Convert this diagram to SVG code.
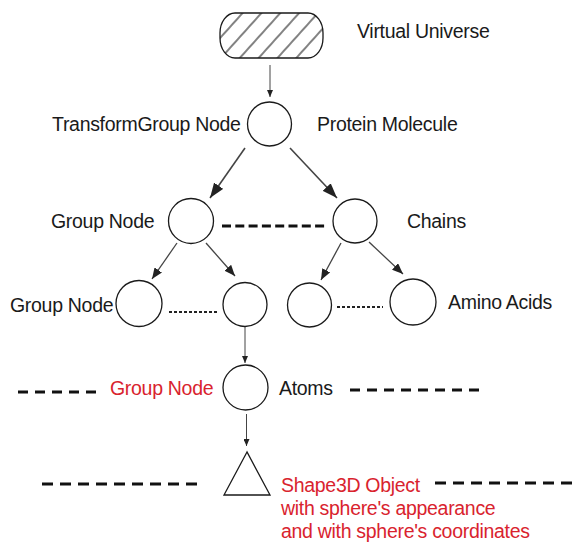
<svg xmlns="http://www.w3.org/2000/svg" width="573" height="542" viewBox="0 0 573 542">
<style>
  text { font-family: "Liberation Sans", Arial, sans-serif; font-size: 19.5px; fill: #1a1a1a; letter-spacing: -0.3px; }
  .red { fill: #d9232e; }
  .node { fill: #ffffff; stroke: #1a1a1a; stroke-width: 1.3; }
  .arrow { stroke: #444444; fill: none; }
  .dash { stroke: #111111; stroke-width: 3.2; fill: none; }
  .dot { stroke: #222222; stroke-width: 2; stroke-dasharray: 3 2; fill: none; }
</style>
<defs>
  <pattern id="hatch" patternUnits="userSpaceOnUse" width="14" height="14" patternTransform="rotate(42)">
    <line x1="7" y1="0" x2="7" y2="14" stroke="#1a1a1a" stroke-width="1.1"/>
  </pattern>
  <marker id="big" markerUnits="userSpaceOnUse" markerWidth="15" markerHeight="11" refX="15" refY="5.5" orient="auto">
    <path d="M0,0 L15,5.5 L0,11 z" fill="#222222"/>
  </marker>
  <marker id="mid" markerUnits="userSpaceOnUse" markerWidth="11" markerHeight="9" refX="11" refY="4.5" orient="auto">
    <path d="M0,0 L11,4.5 L0,9 z" fill="#222222"/>
  </marker>
  <marker id="small" markerUnits="userSpaceOnUse" markerWidth="7" markerHeight="6" refX="7" refY="3" orient="auto">
    <path d="M0,0 L7,3 L0,6 z" fill="#222222"/>
  </marker>
</defs>

<g id="connectors">
  <line class="arrow" stroke-width="1" x1="270" y1="65" x2="270" y2="97" marker-end="url(#small)"/>
  <line class="arrow" stroke-width="1.6" x1="245" y1="148" x2="210" y2="198" marker-end="url(#big)"/>
  <line class="arrow" stroke-width="1.6" x1="290" y1="148" x2="337" y2="198" marker-end="url(#big)"/>
  <line class="arrow" stroke-width="1.3" x1="177" y1="243" x2="152" y2="279" marker-end="url(#mid)"/>
  <line class="arrow" stroke-width="1.3" x1="206" y1="243" x2="235" y2="276" marker-end="url(#mid)"/>
  <line class="arrow" stroke-width="1.3" x1="341" y1="243" x2="321" y2="280" marker-end="url(#mid)"/>
  <line class="arrow" stroke-width="1.3" x1="369" y1="242" x2="403" y2="274" marker-end="url(#mid)"/>
  <line class="arrow" stroke-width="1" x1="245" y1="327" x2="245" y2="363" marker-end="url(#small)"/>
  <line class="arrow" stroke-width="1" x1="246.5" y1="414" x2="246.5" y2="446" marker-end="url(#small)"/>
  <line class="dash" stroke-dasharray="9 4.3" x1="222" y1="226" x2="325" y2="226"/>
  <line class="dot" x1="169" y1="312" x2="217" y2="312"/>
  <line class="dot" x1="337" y1="307" x2="383" y2="307"/>
  <line class="dash" stroke-dasharray="10 7" x1="18" y1="392" x2="97" y2="392"/>
  <line class="dash" stroke-dasharray="10 7" x1="350" y1="390" x2="480" y2="390"/>
  <line class="dash" stroke-dasharray="11 7" x1="42" y1="484" x2="198" y2="484"/>
  <line class="dash" stroke-dasharray="11 7" x1="435" y1="483" x2="573" y2="483"/>
</g>

<g id="virtual-universe">
  <rect x="220" y="13" width="103" height="45" rx="15" ry="20" fill="url(#hatch)" stroke="#1a1a1a" stroke-width="1.3"/>
  <text x="357" y="38">Virtual Universe</text>
</g>

<g id="transform-group">
  <circle class="node" cx="269.5" cy="124" r="22"/>
  <text x="52" y="131">TransformGroup Node</text>
  <text x="317" y="131">Protein Molecule</text>
</g>

<g id="group-node">
  <circle class="node" cx="191" cy="221" r="22.5"/>
  <text x="51" y="228">Group Node</text>
</g>

<g id="chains">
  <circle class="node" cx="355" cy="221" r="22"/>
  <text x="407" y="228">Chains</text>
</g>

<g id="group-node-2">
  <circle class="node" cx="139" cy="303.5" r="23"/>
  <text x="10" y="312">Group Node</text>
</g>

<g id="group-node-3">
  <circle class="node" cx="245" cy="304.5" r="22"/>
</g>

<g id="amino-acid-1">
  <circle class="node" cx="309.5" cy="305" r="22"/>
</g>

<g id="amino-acid-2">
  <circle class="node" cx="413" cy="302" r="23"/>
  <text x="448" y="309">Amino Acids</text>
</g>

<g id="atoms">
  <circle class="node" cx="245.5" cy="387.5" r="22.5"/>
  <text class="red" x="110" y="395">Group Node</text>
  <text x="279" y="395">Atoms</text>
</g>

<g id="shape3d">
  <polygon class="node" points="247,452 224,495 270,495"/>
  <text class="red" x="281" y="492">Shape3D Object</text>
  <text class="red" x="281" y="515">with sphere's appearance</text>
  <text class="red" x="281" y="538">and with sphere's coordinates</text>
</g>
</svg>
